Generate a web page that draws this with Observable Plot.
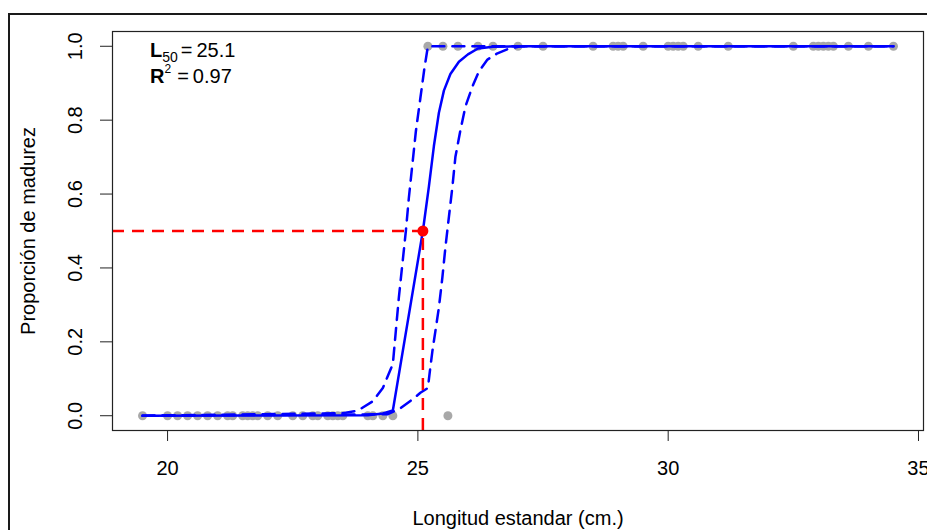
<!DOCTYPE html>
<html>
<head>
<meta charset="utf-8">
<script src="https://cdn.jsdelivr.net/npm/d3@7"></script>
<script src="https://cdn.jsdelivr.net/npm/@observablehq/plot@0.6"></script>
<style>
  body { margin: 0; background: #fff; }
  #wrap { position: relative; width: 927px; height: 530px; overflow: hidden; font-family: "Liberation Sans", Arial, sans-serif; }
  #wrap svg { position: absolute; left: 0; top: 0; }
  #border { position: absolute; left: 8px; top: 13px; right: -10px; bottom: -10px; border-top: 2px solid #1a1a1a; border-left: 2px solid #1a1a1a; pointer-events: none; }
</style>
</head>
<body>
<div id="wrap"><div id="border"></div></div>
<script>
// ---- data ----
const immatureLength = [19.5, 20.0, 20.2, 20.4, 20.6, 20.8, 21.0, 21.2, 21.3, 21.5, 21.6, 21.7, 21.8, 22.0, 22.2, 22.5, 22.7, 22.9, 23.0, 23.2, 23.3, 23.4, 23.5, 24.0, 24.1, 24.3, 24.5, 25.6];
const matureLength = [25.2, 25.5, 25.8, 26.2, 26.5, 27.0, 27.5, 28.5, 28.9, 29.0, 29.1, 29.5, 30.0, 30.1, 30.2, 30.3, 30.6, 31.2, 32.5, 32.9, 33.0, 33.1, 33.2, 33.3, 33.6, 34.0, 34.5];

const fitLength = [19.5, 24.0, 24.3, 24.5, 25.1, 25.22, 25.32, 25.42, 25.52, 25.65, 25.82, 26.0, 26.2, 26.5, 27.0, 34.5];
const fitProp   = [0, 0.001, 0.006, 0.014, 0.5, 0.62, 0.73, 0.82, 0.88, 0.925, 0.958, 0.978, 0.994, 0.999, 1, 1];

const upperLength = [19.5, 23.5, 23.8, 24.1, 24.3, 24.5, 24.56, 24.62, 24.69, 24.76, 24.82, 24.89, 24.96, 25.05, 25.13, 25.2, 34.5];
const upperProp   = [0, 0.007, 0.014, 0.039, 0.075, 0.14, 0.23, 0.32, 0.41, 0.5, 0.59, 0.68, 0.77, 0.86, 0.94, 1.0, 1.0];

const lowerLength = [19.5, 24.4, 24.66, 24.89, 25.05, 25.2, 25.24, 25.29, 25.35, 25.42, 25.49, 25.55, 25.62, 25.69, 25.75, 25.85, 25.95, 26.09, 26.22, 26.39, 26.59, 26.79, 27.05, 34.5];
const lowerProp   = [0, 0.004, 0.021, 0.044, 0.062, 0.075, 0.121, 0.175, 0.229, 0.293, 0.375, 0.456, 0.538, 0.62, 0.701, 0.773, 0.837, 0.891, 0.932, 0.964, 0.981, 0.992, 1.0, 1.0];

const L50 = 25.1;
const P50 = 0.5;
const R2 = 0.97;

const xTicks = [20, 25, 30, 35];
const yTicks = [0, 0.2, 0.4, 0.6, 0.8, 1.0];
const xDomain = [18.9, 35.1];
const yDomain = [-0.04, 1.04];
const xTitle = "Longitud estandar (cm.)";
const yTitle = "Proporción de madurez";

// ---- tables built from the arrays ----
const points = [
  ...immatureLength.map(x => ({x, y: 0})),
  ...matureLength.map(x => ({x, y: 1}))
];
const fit = fitLength.map((x, i) => ({x, y: fitProp[i]}));
const upper = upperLength.map((x, i) => ({x, y: upperProp[i]}));
const lower = lowerLength.map((x, i) => ({x, y: lowerProp[i]}));

const M = {left: 112, right: 4, top: 31, bottom: 100};
const FONT = "Liberation Sans, Arial, sans-serif";
const BLUE = "#0000ff", RED = "#ff0000", GRAY = "#a8a8a8";

const plot = Plot.plot({
  width: 927,
  height: 530,
  marginLeft: M.left, marginRight: M.right, marginTop: M.top, marginBottom: M.bottom,
  style: {fontFamily: FONT, fontSize: "20px", color: "#000", background: "transparent", overflow: "visible"},
  x: {domain: xDomain},
  y: {domain: yDomain},
  marks: [
    Plot.dot(points, {x: "x", y: "y", r: 4.5, fill: GRAY, stroke: null}),
    Plot.line(fit, {x: "x", y: "y", stroke: BLUE, strokeWidth: 2.5}),
    Plot.line(upper, {x: "x", y: "y", stroke: BLUE, strokeWidth: 2.5, strokeDasharray: "12,8"}),
    Plot.line(lower, {x: "x", y: "y", stroke: BLUE, strokeWidth: 2.5, strokeDasharray: "12,8"}),
    Plot.ruleY([P50], {x1: xDomain[0], x2: L50, stroke: RED, strokeWidth: 2.5, strokeDasharray: "12,8"}),
    Plot.ruleX([L50], {y1: yDomain[0], y2: P50, stroke: RED, strokeWidth: 2.5, strokeDasharray: "12,8"}),
    Plot.dot([{x: L50, y: P50}], {x: "x", y: "y", r: 5.5, fill: RED, stroke: null}),
    Plot.frame({stroke: "#222", strokeWidth: 1.2}),
    Plot.axisX({ticks: xTicks, tickSize: 11, tickPadding: 19, tickFormat: d => String(d), fontSize: 20, label: null, stroke: "#222"}),
    Plot.axisY({ticks: yTicks, tickSize: 12, tickFormat: () => "", label: null, stroke: "#222"}),
    Plot.text(yTicks, {y: d => d, frameAnchor: "left", dx: -37, rotate: -90, text: d => d.toFixed(1), textAnchor: "middle", lineAnchor: "middle", fontSize: 20, fill: "#000"}),
    Plot.text([xTitle], {frameAnchor: "bottom", dy: 88, text: d => d, textAnchor: "middle", lineAnchor: "middle", fontSize: 20, fill: "#000"}),
    Plot.text([yTitle], {frameAnchor: "left", dx: -84, rotate: -90, text: d => d, textAnchor: "middle", lineAnchor: "middle", fontSize: 20, fill: "#000"})
  ]
});

document.getElementById("wrap").appendChild(plot);

// ---- legend text (plotmath-like) ----
const svg = d3.select(plot);
const lx = M.left + 38;
const t1 = svg.append("text").attr("x", lx).attr("y", M.top + 26).attr("text-anchor", "start")
  .attr("font-family", FONT).attr("font-size", 20).attr("fill", "#000");
t1.append("tspan").attr("font-weight", "bold").text("L");
t1.append("tspan").attr("font-size", 14).attr("dy", 5).text("50");
t1.append("tspan").attr("dy", -5).attr("dx", 3).text("=");
t1.append("tspan").attr("dx", 4).text(L50.toFixed(1));

const t2 = svg.append("text").attr("x", lx).attr("y", M.top + 52).attr("text-anchor", "start")
  .attr("font-family", FONT).attr("font-size", 20).attr("fill", "#000");
t2.append("tspan").attr("font-weight", "bold").text("R");
t2.append("tspan").attr("font-size", 12).attr("dy", -10).text("2");
t2.append("tspan").attr("dy", 10).attr("dx", 6).text("=");
t2.append("tspan").attr("dx", 4).text(R2.toFixed(2));
</script>
</body>
</html>
